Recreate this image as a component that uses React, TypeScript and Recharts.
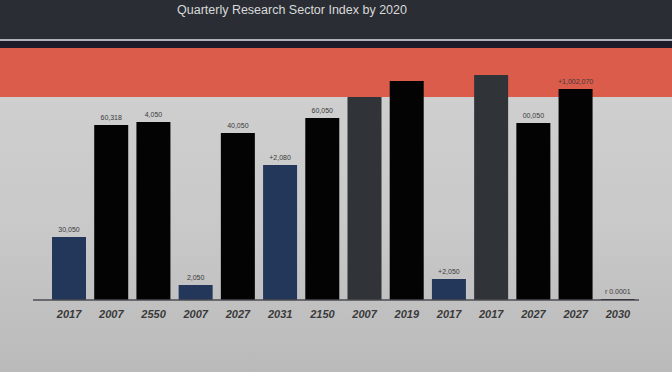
import { BarChart, Bar, XAxis, YAxis, Cell, LabelList } from "recharts";

const categories = ["2017", "2007", "2550", "2007", "2027", "2031", "2150", "2007", "2019", "2017", "2017", "2027", "2027", "2030"];
const values = [63, 175, 178, 15, 167, 135, 182, 203, 219, 21, 225, 177, 211, 1];
const topLabels = ["30,050", "60,318", "4,050", "2,050", "40,050", "+2,080", "60,050", "", "", "+2,050", "", "00,050", "+1,002,070", "r\u00a00.0001"];
const kinds = ["navy", "black", "black", "navy", "black", "navy", "black", "grey", "black", "navy", "grey", "black", "black", "black"];

const colors: Record<string, string> = { navy: "#22375a", black: "#030303", grey: "#303337" };

const data = categories.map((c, i) => ({ name: c, value: values[i], label: topLabels[i], kind: kinds[i] }));

function TopLabel({ x, y, width, value }: any) {
  if (!value) return null;
  return (
    <text x={x + width / 2} y={y - 5} textAnchor="middle" fontSize={7} fill="#3a3a3a">
      {value}
    </text>
  );
}

export default function App() {
  return (
    <div
      style={{
        position: "fixed",
        top: 0,
        left: 0,
        width: 672,
        height: 372,
        overflow: "hidden",
        background: "linear-gradient(180deg, #d3d3d3 0%, #c9c9c9 60%, #bababa 100%)",
        fontFamily: "'Liberation Sans', Arial, sans-serif",
      }}
    >
      <div style={{ position: "absolute", top: 0, left: 0, width: 672, height: 39, background: "#2a2e34" }} />
      <div style={{ position: "absolute", top: 39, left: 0, width: 672, height: 2, background: "#aeb2b8" }} />
      <div style={{ position: "absolute", top: 41, left: 0, width: 672, height: 7, background: "#1d1b2a" }} />
      <div style={{ position: "absolute", top: 48, left: 0, width: 672, height: 49, background: "#dc5c4c" }} />
      <div
        style={{
          position: "absolute",
          top: 3,
          left: 0,
          width: 584,
          textAlign: "center",
          color: "#d9d9d9",
          fontSize: 12.5,
        }}
      >
        Quarterly Research Sector Index by 2020
      </div>
      <div style={{ position: "absolute", top: 0, left: 0 }}>
        <BarChart
          width={672}
          height={372}
          data={data}
          margin={{ top: 50, right: 33, left: 33, bottom: 42 }}
          barCategoryGap={4}
        >
          <XAxis
            dataKey="name"
            padding={{ left: 15, right: 0 }}
            tickLine={false}
            axisLine={{ stroke: "#4a4c50", strokeWidth: 1.5 }}
            tick={{ fill: "#3a3a3a", fontSize: 11, fontStyle: "italic", fontWeight: "bold" }}
            tickMargin={4}
            interval={0}
          />
          <YAxis domain={[0, 250]} hide />
          <Bar dataKey="value" isAnimationActive={false}>
            {data.map((d, i) => (
              <Cell key={i} fill={colors[d.kind]} />
            ))}
            <LabelList dataKey="label" content={<TopLabel />} />
          </Bar>
        </BarChart>
      </div>
    </div>
  );
}
